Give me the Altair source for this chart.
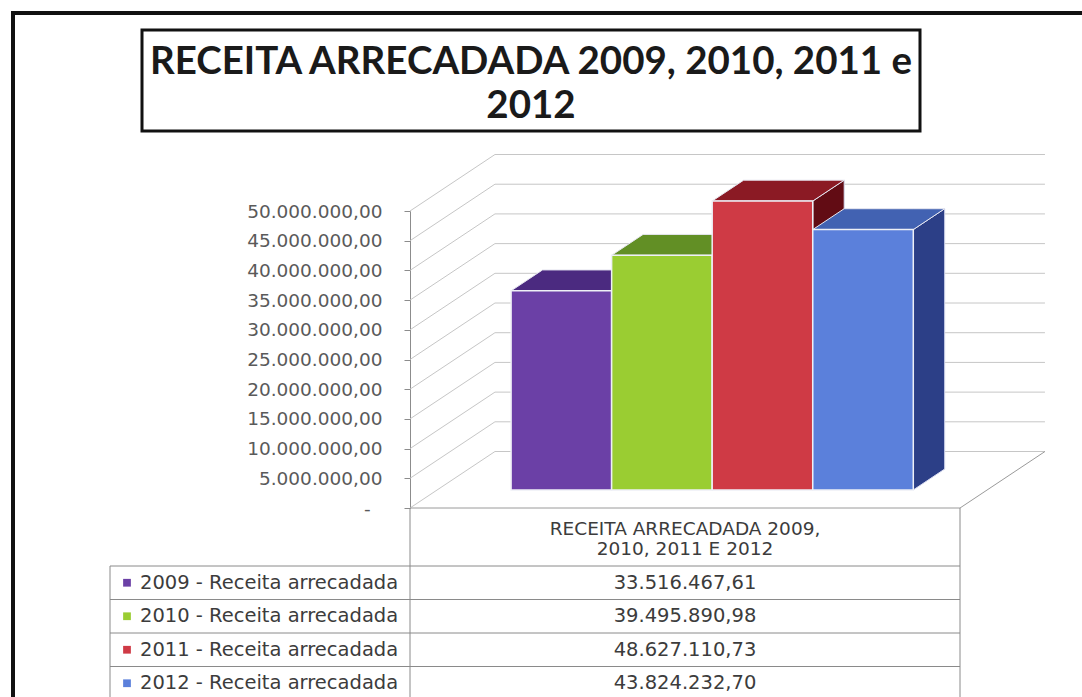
import altair as alt
import pandas as pd

# ---- data -------------------------------------------------------------
years = ["2009", "2010", "2011", "2012"]
row_labels = [f"{y} - Receita arrecadada" for y in years]
revenue = [33516467.61, 39495890.98, 48627110.73, 43824232.70]
tick_values = [0, 5e6, 10e6, 15e6, 20e6, 25e6, 30e6, 35e6, 40e6, 45e6, 50e6]
title_lines = ["RECEITA ARRECADADA 2009, 2010, 2011 e", "2012"]
header_lines = ["RECEITA ARRECADADA 2009,", "2010, 2011 E 2012"]

# face colours of each bar (front, top, right side)
front_colors = ["#6b40a6", "#9acd32", "#cf3a45", "#5b80db"]
top_colors = ["#4b2a80", "#628f25", "#8b1a24", "#4262b2"]
side_colors = ["#3c2068", "#4c7419", "#620c14", "#2c3f87"]

# ---- 3-D projection parameters (data units) ----------------------------
GAP = 0.735          # empty floor on each side of the bar group, in bar widths
DEPTH_X = 0.845      # horizontal shift of the back wall, in bar widths
DEPTH_Y = 9.51e6     # vertical shift of the back wall, in value units
NEAR, FAR = 0.32, 0.69   # depth band occupied by the bars (fraction of floor depth)
X_MAX = len(years) + 2 * GAP
Y_MAX = 50e6


def br_number(v):
    s = f"{v:,.2f}"
    return s.replace(",", "#").replace(".", ",").replace("#", ".")


# ---- geometry tables built from the values ------------------------------
dx = (FAR - NEAR) * DEPTH_X
dy = (FAR - NEAR) * DEPTH_Y
fronts, tops, sides = [], [], []
for i, (yr, v) in enumerate(zip(years, revenue)):
    x0 = GAP + i + NEAR * DEPTH_X
    x1 = x0 + 1
    base = NEAR * DEPTH_Y
    top = base + v
    fronts.append(dict(year=yr, x=x0, x2=x1, y=base, y2=top, c=front_colors[i]))
    for px, lo, hi in [(x0, top, top), (x0 + dx, top, top + dy),
                       (x1, top, top + dy), (x1 + dx, top + dy, top + dy)]:
        tops.append(dict(year=yr, x=px, lo=lo, hi=hi, c=top_colors[i]))
    for px, lo, hi in [(x1, base, top), (x1 + dx, base + dy, top + dy)]:
        sides.append(dict(year=yr, x=px, lo=lo, hi=hi, c=side_colors[i]))

fronts = pd.DataFrame(fronts)
tops = pd.DataFrame(tops)
sides = pd.DataFrame(sides)

back_grid = pd.DataFrame({"x": DEPTH_X, "x2": X_MAX + DEPTH_X,
                          "y": [t + DEPTH_Y for t in tick_values]})
left_diag = pd.DataFrame({"x": 0.0, "x2": DEPTH_X, "y": tick_values,
                          "y2": [t + DEPTH_Y for t in tick_values]})
floor_edges = pd.DataFrame({"x": [0.0, X_MAX], "x2": [X_MAX, X_MAX + DEPTH_X],
                            "y": [0.0, 0.0], "y2": [0.0, DEPTH_Y]})

table = pd.DataFrame({"label": row_labels, "year": years,
                      "value": [br_number(v) for v in revenue]})

# ---- scales / axis -----------------------------------------------------
xs = alt.Scale(domain=[0, X_MAX], nice=False, zero=False)
ys = alt.Scale(domain=[0, Y_MAX], nice=False, zero=False)

# zero is shown as an accounting dash, the rest as 50.000.000,00
label_expr = (
    "datum.value == 0 ? '-\u00a0\u00a0\u200b' : "
    "replace(replace(replace(format(datum.value, ',.2f'), regexp(',', 'g'), '#'), "
    "regexp('[.]', 'g'), ','), regexp('#', 'g'), '.')"
)
y_axis = alt.Axis(values=tick_values, labelExpr=label_expr, title=None, grid=False,
                  tickSize=6, tickColor="#8c8c8c", domainColor="#8c8c8c",
                  labelFont="DejaVu Sans", labelFontSize=18.5, labelColor="#5a5a5a",
                  labelPadding=22)


def X(field):
    return alt.X(field, type="quantitative", scale=xs, axis=None)


def Y(field):
    return alt.Y(field, type="quantitative", scale=ys, axis=y_axis)


grid_color = "#c6c6c6"

back = alt.Chart(back_grid).mark_rule(color=grid_color, strokeWidth=1).encode(
    x=X("x"), x2="x2", y=Y("y"))
diag = alt.Chart(left_diag).mark_rule(color=grid_color, strokeWidth=1).encode(
    x=X("x"), x2="x2", y=Y("y"), y2="y2")
floor = alt.Chart(floor_edges).mark_rule(color="#9a9a9a", strokeWidth=1).encode(
    x=X("x"), x2="x2", y=Y("y"), y2="y2")

side_faces = alt.Chart(sides).mark_area(orient="vertical", stroke="#d8dcf0",
                                        strokeWidth=1, opacity=1).encode(
    x=X("x"), y=Y("lo"), y2="hi", detail="year:N",
    color=alt.Color("c:N", scale=None))
top_faces = alt.Chart(tops).mark_area(orient="vertical", stroke="#e6e6f0",
                                      strokeWidth=1, opacity=1).encode(
    x=X("x"), y=Y("lo"), y2="hi", detail="year:N",
    color=alt.Color("c:N", scale=None))
front_faces = alt.Chart(fronts).mark_rect(stroke="#eef0f6", strokeWidth=1.5).encode(
    x=X("x"), x2="x2", y=Y("y"), y2="y2",
    color=alt.Color("c:N", scale=None))

plot3d = alt.layer(back, diag, floor, side_faces, top_faces, front_faces)

# ---- data table under the plot ----------------------------------------
one = alt.Data(values=[{}])
ty = alt.Y("label:N", scale=alt.Scale(domain=row_labels, range=[355, 489],
                                     paddingInner=0, paddingOuter=0), axis=None)
ty_edge = alt.Y("label:N", scale=alt.Scale(domain=row_labels, range=[355, 489],
                                          paddingInner=0, paddingOuter=0),
                axis=None, bandPosition=0)

row_lines = alt.Chart(table).mark_rule(color="#8a8a8a", strokeWidth=1).encode(
    y=ty_edge, x=alt.value(-300), x2=alt.value(550))
row_text = alt.Chart(table).mark_text(align="left", baseline="middle",
                                      font="DejaVu Sans", fontSize=19.5,
                                      color="#3c3c3c").encode(
    y=ty, x=alt.value(-270), text="label:N")
row_keys = alt.Chart(table).mark_square(size=60, opacity=1).encode(
    y=ty, x=alt.value(-283),
    color=alt.Color("year:N", scale=alt.Scale(domain=years, range=front_colors),
                    legend=None))
row_vals = alt.Chart(table).mark_text(align="center", baseline="middle",
                                      font="DejaVu Sans", fontSize=19.5,
                                      color="#3c3c3c").encode(
    y=ty, x=alt.value(275), text="value:N")
table_layer = alt.layer(row_lines, row_text, row_keys, row_vals)

# ---- frame, title box, table borders ------------------------------------
frame = alt.Chart(one).mark_rect(fill="transparent", stroke="#111111",
                                 strokeWidth=4).encode(
    x=alt.value(-397), x2=alt.value(700), y=alt.value(-198), y2=alt.value(520))
title_box = alt.Chart(one).mark_rect(fill="white", stroke="#111111",
                                     strokeWidth=3).encode(
    x=alt.value(-268), x2=alt.value(510), y=alt.value(-181), y2=alt.value(-80))
title1 = alt.Chart(one).mark_text(text=title_lines[0], font="Lato", fontWeight="bold",
                                  fontSize=38.5, color="#1a1a1a", align="center",
                                  baseline="middle").encode(
    x=alt.value(121), y=alt.value(-149))
title2 = alt.Chart(one).mark_text(text=title_lines[1], font="Lato", fontWeight="bold",
                                  fontSize=38.5, color="#1a1a1a", align="center",
                                  baseline="middle").encode(
    x=alt.value(121), y=alt.value(-105))
header1 = alt.Chart(one).mark_text(text=header_lines[0], font="DejaVu Sans",
                                   fontSize=18.5, color="#3c3c3c",
                                   align="center", baseline="middle").encode(
    x=alt.value(275), y=alt.value(318))
header2 = alt.Chart(one).mark_text(text=header_lines[1], font="DejaVu Sans",
                                   fontSize=18.5, color="#3c3c3c",
                                   align="center", baseline="middle").encode(
    x=alt.value(275), y=alt.value(338))

table_border = alt.Chart(one).mark_rule(color="#8a8a8a", strokeWidth=1)
v_left = table_border.encode(x=alt.value(-300), y=alt.value(355), y2=alt.value(500))
v_axis = table_border.encode(x=alt.value(0), y=alt.value(297), y2=alt.value(500))
v_right = table_border.encode(x=alt.value(550), y=alt.value(297), y2=alt.value(500))

chart = alt.layer(
    frame, title_box, title1, title2,
    plot3d,
    v_left, v_axis, v_right, header1, header2,
    table_layer,
).resolve_scale(y="independent", color="independent").properties(
    width=550, height=297,
    padding={"left": 410, "top": 211, "right": 122, "bottom": 189},
    autosize=alt.AutoSizeParams(type="none"),
    background="white",
).configure_view(strokeWidth=0)

chart.save("out.html", embed_options={"renderer": "svg", "actions": False})
